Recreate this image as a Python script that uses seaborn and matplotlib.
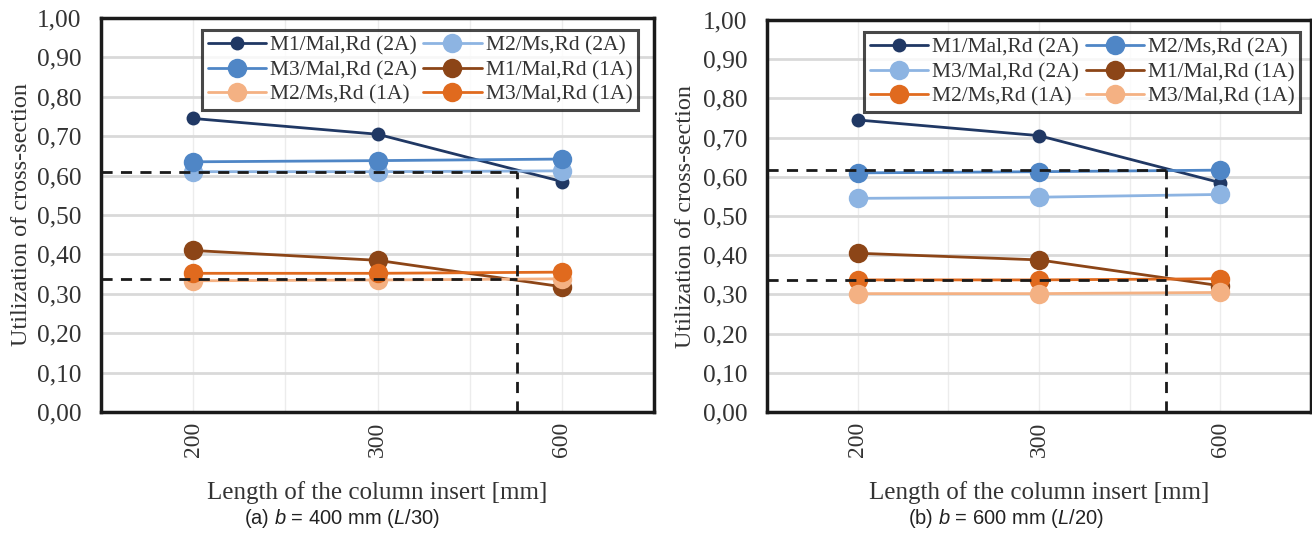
import matplotlib
matplotlib.use("Agg")
import matplotlib.pyplot as plt
import seaborn as sns
import pandas as pd

sns.set_theme(style="white")
plt.rcParams['font.family'] = ['Liberation Serif', 'DejaVu Serif']
plt.rcParams['mathtext.fontset'] = 'custom'
plt.rcParams['mathtext.it'] = 'Liberation Sans:italic'
plt.rcParams['mathtext.rm'] = 'Liberation Sans'

lengths = ["200", "300", "600"]
yticks = [0.0, 0.1, 0.2, 0.3, 0.4, 0.5, 0.6, 0.7, 0.8, 0.9, 1.0]

labels = ["M1/Mal,Rd (2A)", "M2/Ms,Rd (2A)", "M3/Mal,Rd (2A)",
          "M1/Mal,Rd (1A)", "M2/Ms,Rd (1A)", "M3/Mal,Rd (1A)"]
m1_2a_a = [0.745, 0.705, 0.585]
m2_2a_a = [0.610, 0.610, 0.612]
m3_2a_a = [0.635, 0.638, 0.642]
m1_1a_a = [0.410, 0.385, 0.318]
m2_1a_a = [0.333, 0.335, 0.338]
m3_1a_a = [0.352, 0.352, 0.355]

m1_2a_b = [0.745, 0.705, 0.585]
m2_2a_b = [0.610, 0.613, 0.617]
m3_2a_b = [0.545, 0.548, 0.555]
m1_1a_b = [0.405, 0.388, 0.322]
m2_1a_b = [0.337, 0.337, 0.340]
m3_1a_b = [0.302, 0.302, 0.305]

# reference (dashed) lines: threshold values and intersection position
thr_a = [0.61, 0.338]
cross_a = 1.755
thr_b = [0.617, 0.338]
cross_b = 1.70

captions = [r"(a) $b$ = 400 mm ($L$/30)", r"(b) $b$ = 600 mm ($L$/20)"]

navy = "#203864"
mid_blue = "#4f86c6"
light_blue = "#8db4e2"
brown = "#8c4517"
orange = "#e06a1e"
peach = "#f4b183"

series_a = [
    (labels[0], m1_2a_a, navy, 10),
    (labels[1], m2_2a_a, light_blue, 14),
    (labels[2], m3_2a_a, mid_blue, 14),
    (labels[3], m1_1a_a, brown, 14),
    (labels[4], m2_1a_a, peach, 14),
    (labels[5], m3_1a_a, orange, 14),
]
series_b = [
    (labels[0], m1_2a_b, navy, 10),
    (labels[1], m2_2a_b, mid_blue, 14),
    (labels[2], m3_2a_b, light_blue, 14),
    (labels[3], m1_1a_b, brown, 14),
    (labels[4], m2_1a_b, orange, 14),
    (labels[5], m3_1a_b, peach, 14),
]

W, H = 1312, 534
fig = plt.figure(figsize=(W / 100, H / 100), dpi=100)
ax1 = fig.add_axes([101 / W, (H - 412) / H, 553 / W, 394 / H])
ax2 = fig.add_axes([767 / W, (H - 412) / H, 544 / W, 392 / H])


def draw(ax, series, thr, cross, caption, leg_anchor, ylab_x, cap_x):
    for lab, vals, col, ms in series:
        df = pd.DataFrame({"x": lengths, "y": vals})
        sns.lineplot(data=df, x="x", y="y", ax=ax, color=col, marker="o",
                     markersize=ms, markeredgewidth=0, linewidth=2,
                     label=lab, sort=False, zorder=3)
    for t in thr:
        ax.plot([-0.5, cross], [t, t], color="#1a1a1a", linestyle=(0, (4, 3)),
                linewidth=2, zorder=4)
    ax.plot([cross, cross], [0, max(thr)], color="#1a1a1a",
            linestyle=(0, (4, 3)), linewidth=2, zorder=4)
    ax.set_xlim(-0.5, 2.5)
    ax.set_ylim(0, 1.0)
    ax.set_yticks(yticks)
    ax.set_yticklabels([f"{v:.2f}".replace(".", ",") for v in yticks],
                       fontsize=18.3, color="#333333")
    ax.set_xticks([0, 1, 2])
    ax.set_xticklabels(lengths, rotation=90, fontsize=17, color="#333333")
    ax.set_xticks([0.5, 1.5], minor=True)
    ax.grid(axis="y", color="#d9d9d9", linewidth=2, zorder=0)
    ax.grid(axis="x", which="both", color="#ececec", linewidth=1, zorder=0)
    ax.tick_params(axis="y", length=0, which="both", pad=14)
    ax.tick_params(axis="x", length=0, which="both", pad=7)
    for s in ax.spines.values():
        s.set_color("#1a1a1a")
        s.set_linewidth(2.5)
    ax.set_xlabel("Length of the column insert [mm]", fontsize=18,
                  color="#333333", labelpad=17)
    ax.set_ylabel("Utilization of cross-section", fontsize=17.5,
                  color="#333333")
    ax.yaxis.set_label_coords(ylab_x, 0.5)
    handles, labs = ax.get_legend_handles_labels()
    order = [0, 2, 4, 1, 3, 5]
    leg = ax.legend([handles[i] for i in order], [labs[i] for i in order],
                    ncol=2, loc="upper right", bbox_to_anchor=leg_anchor,
                    fontsize=15.5, frameon=True, fancybox=False,
                    labelspacing=0.21, columnspacing=0.3, handletextpad=0.2,
                    handlelength=2.7, borderpad=0.25, borderaxespad=0)
    leg.get_frame().set_edgecolor("#1a1a1a")
    leg.get_frame().set_linewidth(2.2)
    for t in leg.get_texts():
        t.set_color("#333333")
    fig.text(cap_x / W, 1 - 519 / H, caption, ha="center", va="center",
             fontsize=14.5, family=["Liberation Sans Narrow", "Liberation Sans"],
             color="#222222")


draw(ax1, series_a, thr_a, cross_a, captions[0], (0.971, 0.9695), -0.125, 342)
draw(ax2, series_b, thr_b, cross_b, captions[1], (0.98, 0.969), -0.13, 1006)

fig.savefig("out.png", dpi=100)
